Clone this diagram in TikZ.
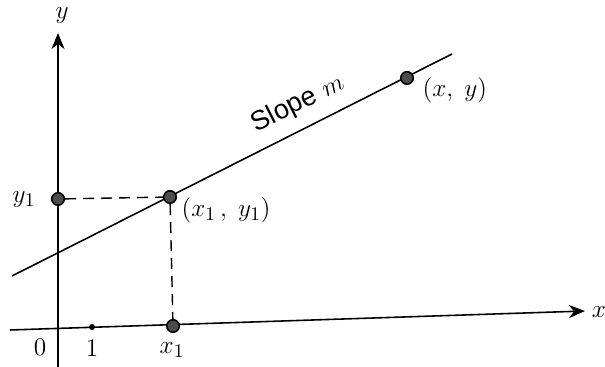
\documentclass[tikz,border=0pt]{standalone}
\usepackage{amsmath}
\usepackage{fontspec}
\setsansfont{Liberation Sans}
\usetikzlibrary{arrows.meta}

\tikzset{
  ptdot/.style={circle, draw=black, fill=black!70, inner sep=0pt, minimum size=2.5mm},
  tickdot/.style={circle, fill=black, inner sep=0pt, minimum size=1.2mm},
  axisline/.style={line width=0.9pt, -{Stealth[length=3.2mm, width=2.6mm, inset=1mm]}},
  guide/.style={dashed, dash pattern=on 2.2mm off 1.4mm, line width=0.8pt},
  lbl/.style={font=\fontsize{15.5}{18}\selectfont}
}

\begin{document}
\begin{tikzpicture}[line width=0.9pt]
  \useasboundingbox (0,0) rectangle (12.1,7.34);

  % --- axes ---
  \coordinate (ybot) at (1.16,0);
  \coordinate (ytop) at (1.16,6.68);
  \coordinate (xleft) at (0.2,0.74);
  \coordinate (xright) at (11.7,1.12);
  \draw[axisline] (ybot) -- (ytop);
  \draw[axisline] (xleft) -- (xright);
  \node[lbl] (ylab) at (1.24,7.02) {$y$};
  \node[lbl] (xlab) at (11.98,1.1) {$x$};

  % --- points on the axes ---
  \node[lbl] (zero) at (0.8,0.4) {$0$};
  \node[tickdot] (one) at (1.84,0.8) {};
  \node[lbl] (onelab) at (1.84,0.38) {$1$};
  \node[ptdot] (xone) at (3.46,0.82) {};
  \node[lbl] (xonelab) at (3.44,0.34) {$x_1$};
  \node[ptdot] (yone) at (1.16,3.36) {};
  \node[lbl] (yonelab) at (0.48,3.34) {$y_1$};

  % --- the line ---
  \coordinate (lstart) at (0.24,1.82);
  \coordinate (lend) at (9.04,6.26);
  \draw (lstart) -- (lend);
  \node[lbl, rotate=26.8] (slope) at (5.96,5.26) {\textsf{Slope} $m$};
  \node[ptdot] (pone) at (3.4,3.4) {};
  \node[lbl, anchor=west] (ponelab) at (3.5,3.14) {$(x_1\,,\;y_1)$};
  \node[ptdot] (pxy) at (8.14,5.78) {};
  \node[lbl, anchor=west] (pxylab) at (8.32,5.54) {$(x,\;y)$};

  % --- dashed guides ---
  \draw[guide] (yone) -- (pone);
  \draw[guide] (pone) -- (xone);
\end{tikzpicture}
\end{document}
